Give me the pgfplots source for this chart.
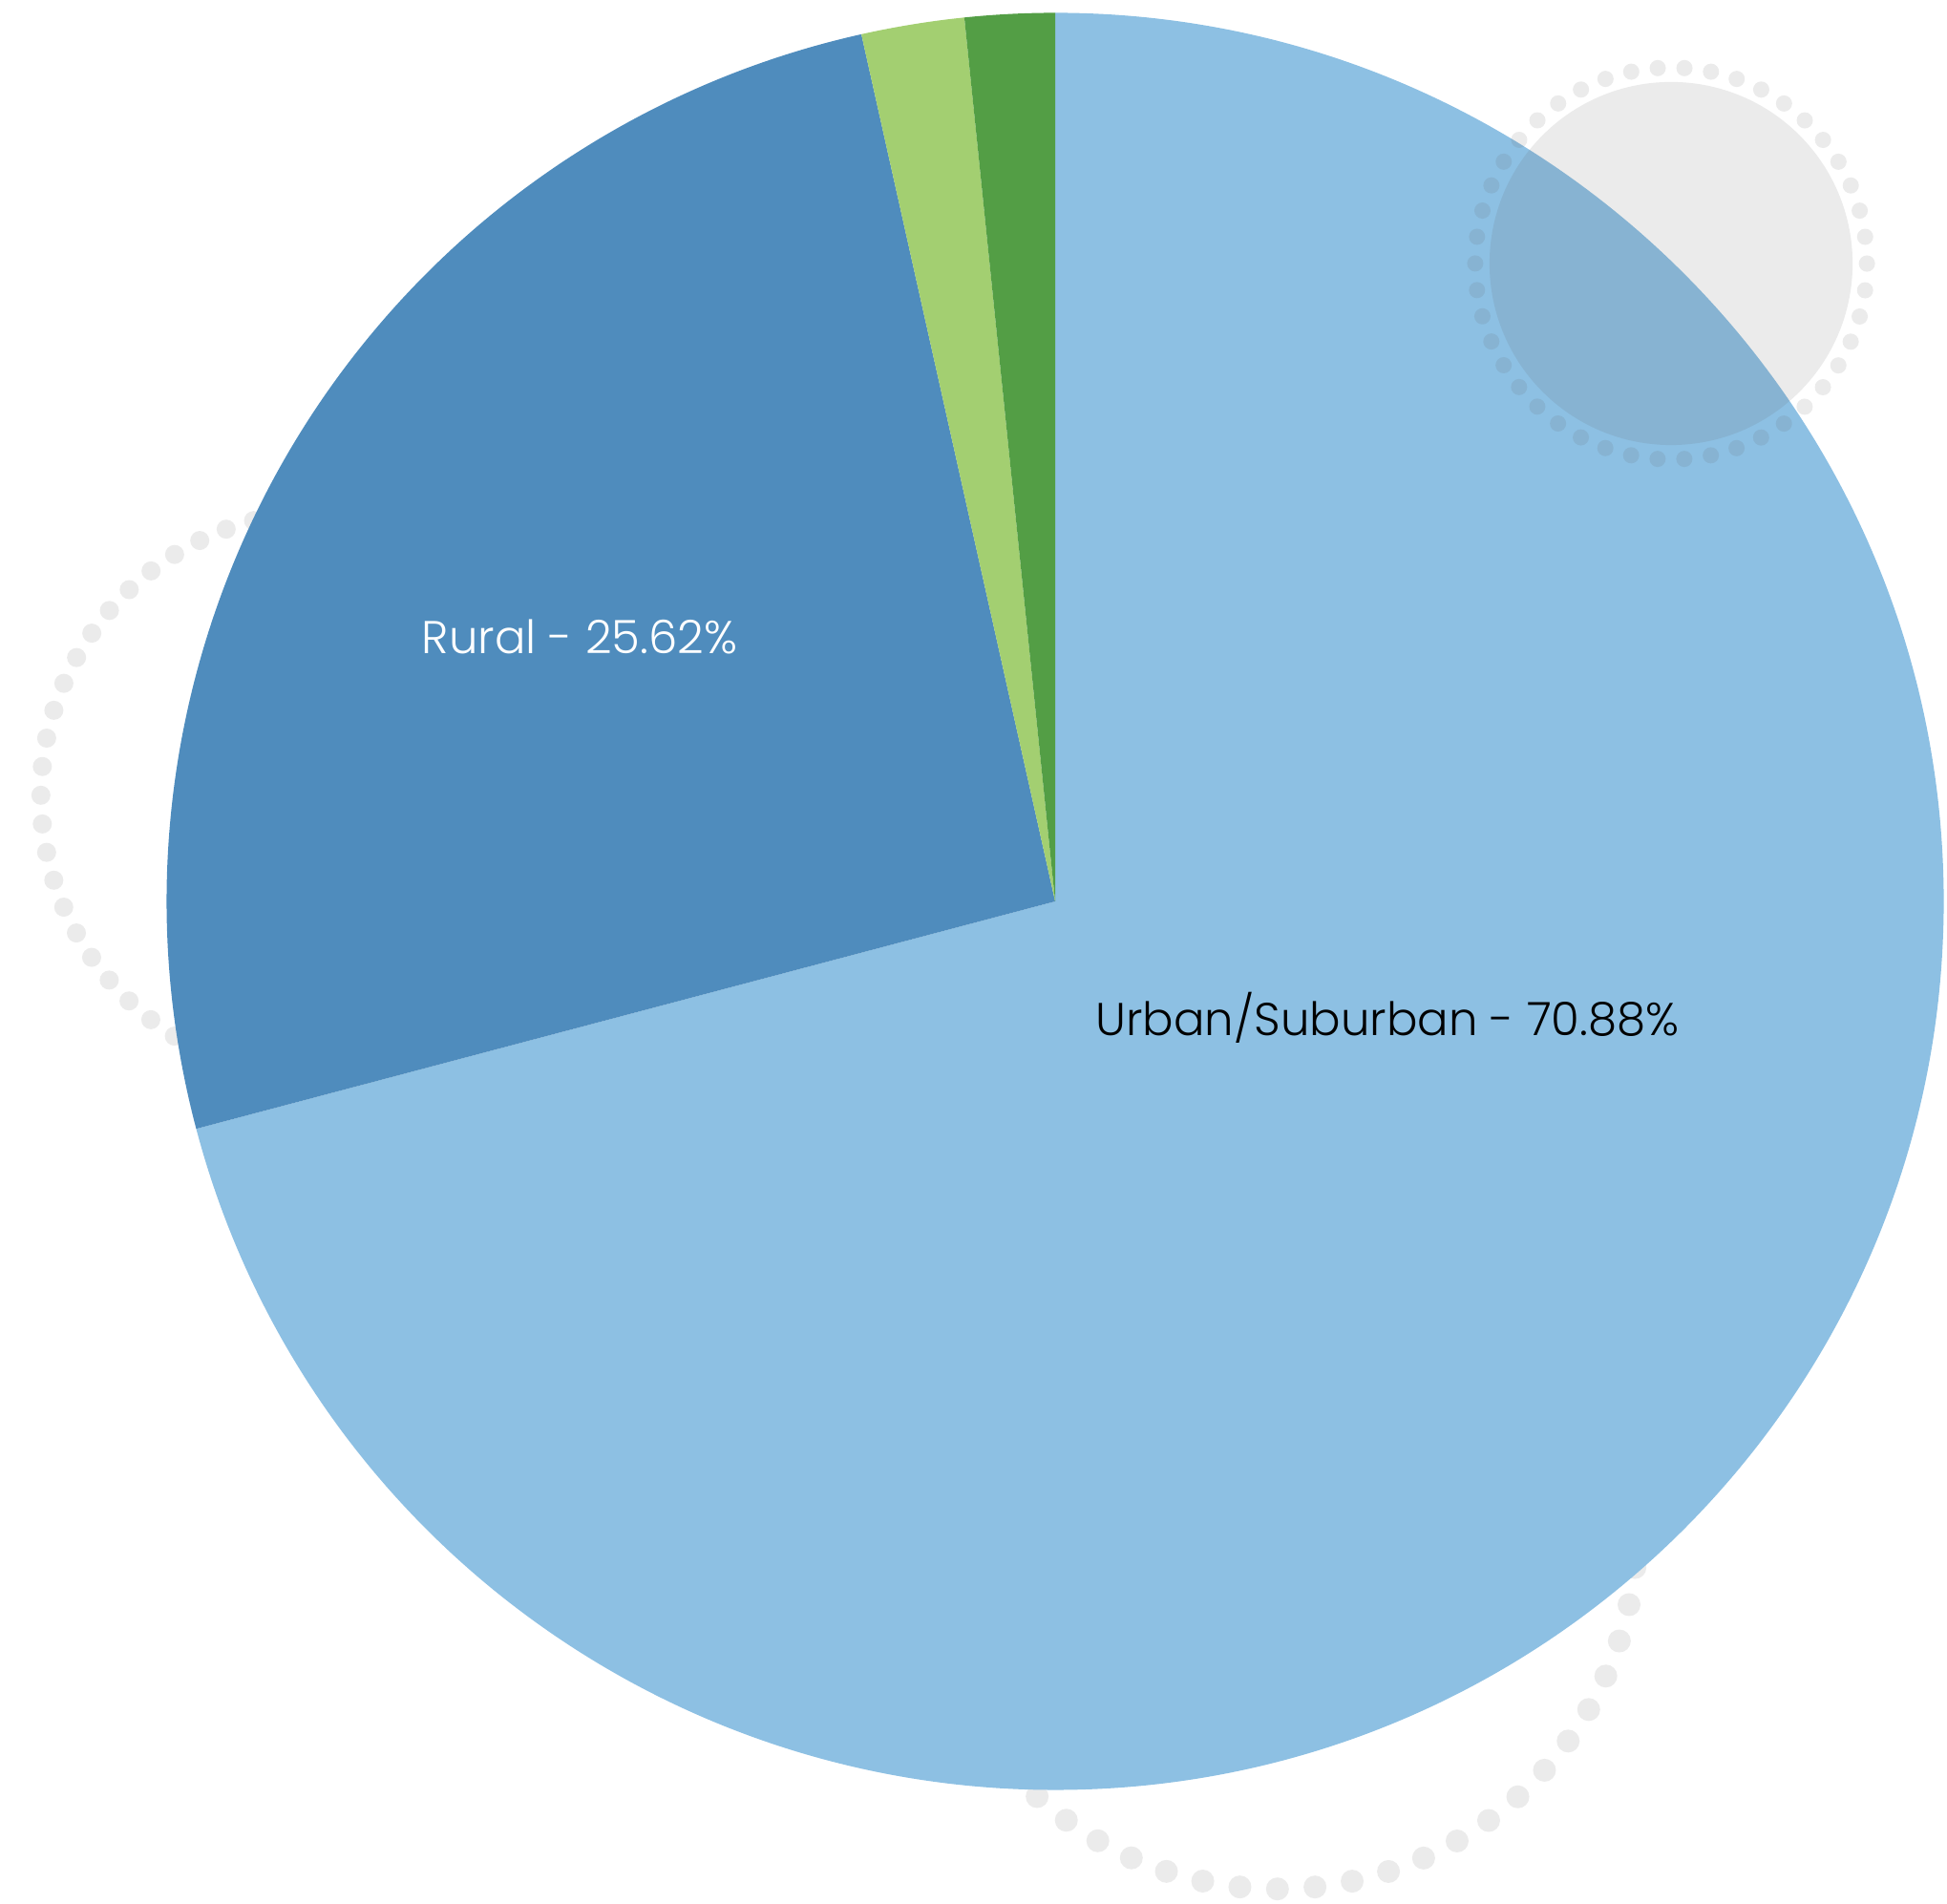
\documentclass[border=0pt]{standalone}
\usepackage{pgfplots}
\pgfplotsset{compat=1.18}
\usepackage{pgfplotstable}
\usepackage{fontspec}
\IfFontExistsTF{Poppins Light}{\setmainfont{Poppins Light}}{\setmainfont{Poppins}}
\definecolor{urban}{HTML}{8DC0E3}
\definecolor{rural}{HTML}{4F8CBD}
\definecolor{lgreen}{HTML}{A3CF71}
\definecolor{dgreen}{HTML}{539E45}
\definecolor{dotgrey}{HTML}{EBEBEB}
\definecolor{ovgrey}{HTML}{5C5C5C}
\pgfplotstableread{
name pct
Urban 70.88
Rural 25.62
OtherA 1.87
OtherB 1.63
}\piedata
\begin{document}
\begin{tikzpicture}
\pgfplotstablegetelem{0}{pct}\of\piedata \edef\pA{\pgfplotsretval}
\pgfplotstablegetelem{1}{pct}\of\piedata \edef\pB{\pgfplotsretval}
\pgfplotstablegetelem{2}{pct}\of\piedata \edef\pC{\pgfplotsretval}
\pgfplotstablegetelem{3}{pct}\of\piedata \edef\pD{\pgfplotsretval}
\pgfmathsetmacro\aA{90-3.6*\pA}
\pgfmathsetmacro\aB{\aA-3.6*\pB}
\pgfmathsetmacro\aC{\aB-3.6*\pC}
\pgfmathsetmacro\aD{\aC-3.6*\pD}
\begin{axis}[x=0.01cm,y=0.01cm,xmin=0,xmax=2039,ymin=0,ymax=1994,
  hide axis,scale only axis,clip=false]
 % background dotted circles
 \draw[dotgrey, line width=0.20cm, line cap=round, dash pattern=on 0pt off 0.30098cm]
   (axis cs:340,1161) circle[radius=2.97cm];
 \draw[dotgrey, line width=0.24cm, line cap=round, dash pattern=on 0pt off 0.39375cm]
   (axis cs:1338,392) circle[radius=3.76cm];
 % pie
 \fill[urban] (axis cs:1105,1050) -- ++(90:9.3cm) arc[start angle=90, end angle=\aA, radius=9.3cm] -- cycle;
 \fill[rural] (axis cs:1105,1050) -- ++(\aA:9.3cm) arc[start angle=\aA, end angle=\aB, radius=9.3cm] -- cycle;
 \fill[lgreen] (axis cs:1105,1050) -- ++(\aB:9.3cm) arc[start angle=\aB, end angle=\aC, radius=9.3cm] -- cycle;
 \fill[dgreen] (axis cs:1105,1050) -- ++(\aC:9.3cm) arc[start angle=\aC, end angle=\aD, radius=9.3cm] -- cycle;
 % overlay circle
 \fill[ovgrey, opacity=0.12] (axis cs:1750,1718) circle[radius=1.9cm];
 \draw[ovgrey, draw opacity=0.12, line width=0.17cm, line cap=round, dash pattern=on 0pt off 0.28002cm]
   (axis cs:1750,1718) circle[radius=2.05cm];
 % labels
 \node[anchor=base, text=white, font=\fontsize{13.7}{16}\selectfont, inner sep=0pt] at (axis cs:607,1309) {Rural - 25.62\%};
 \node[anchor=base, text=black, font=\fontsize{13.7}{16}\selectfont, inner sep=0pt] at (axis cs:1453,909) {Urban/Suburban - 70.88\%};
 \coordinate (SW) at (axis cs:0,0);
 \coordinate (NE) at (axis cs:2039,1994);
\end{axis}
\pgfresetboundingbox
\useasboundingbox (SW) rectangle (NE);
\end{tikzpicture}
\end{document}
